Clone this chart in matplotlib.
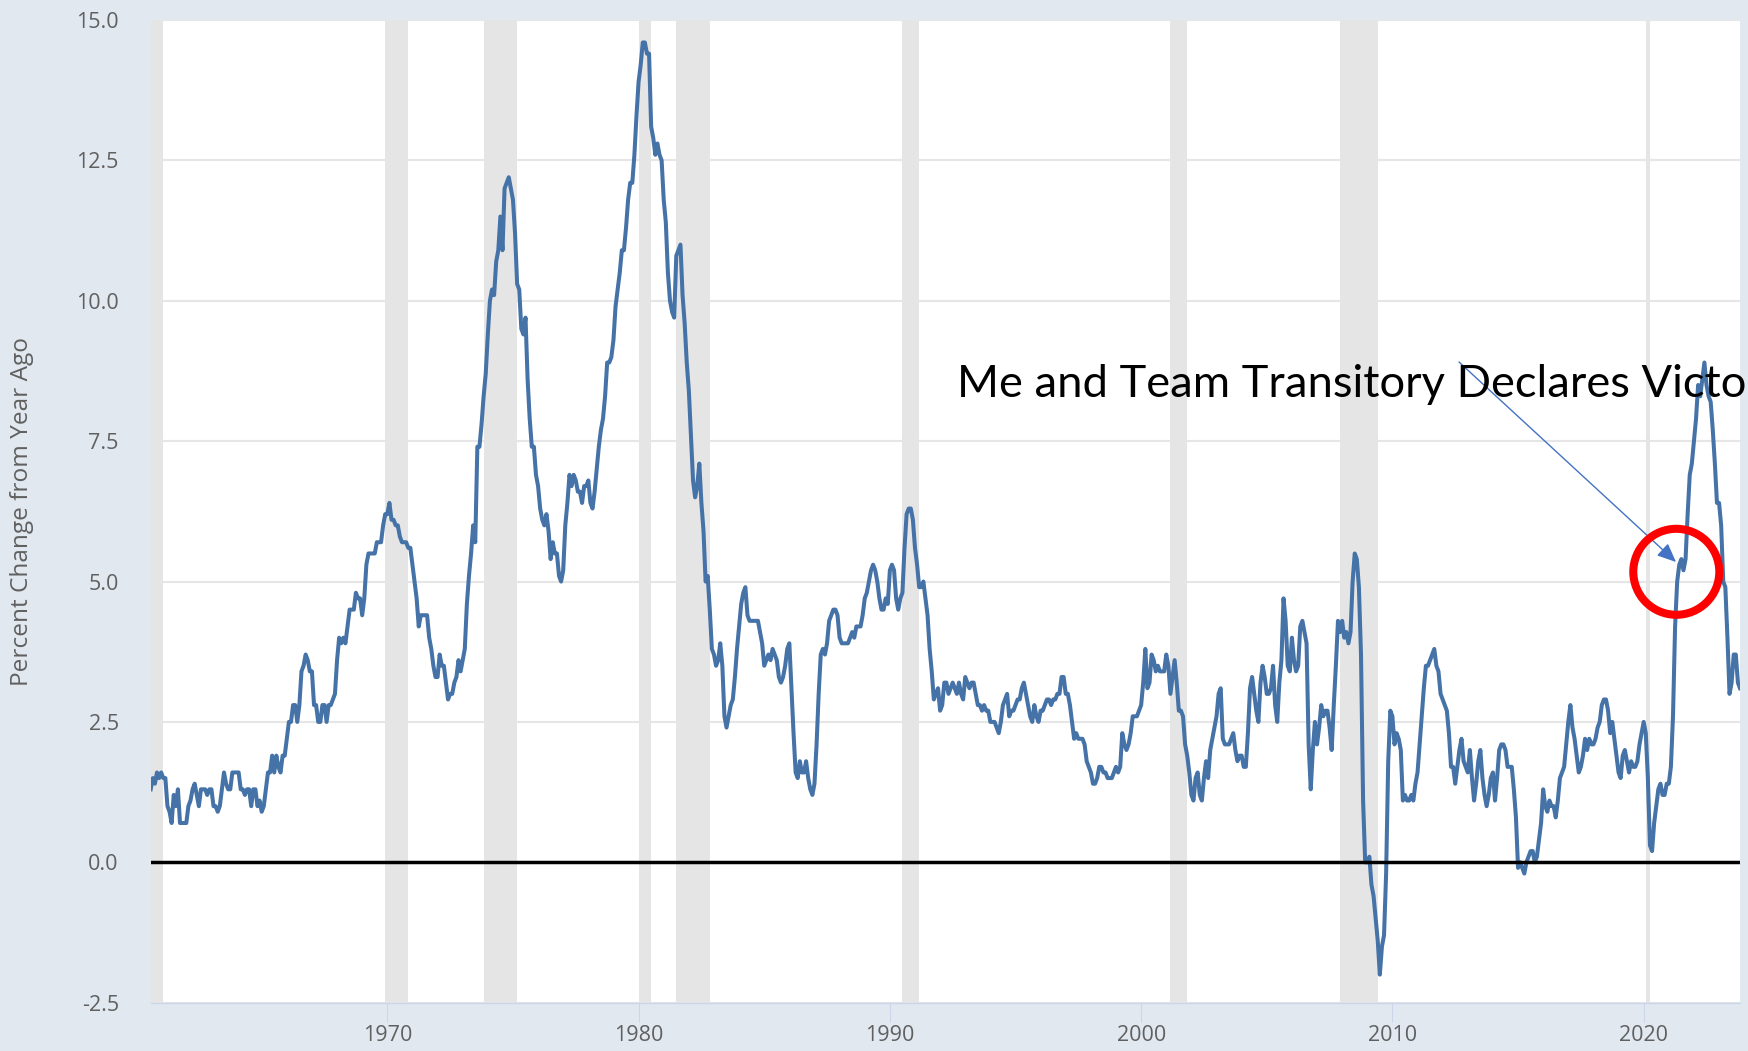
import matplotlib
matplotlib.use("Agg")
import matplotlib.pyplot as plt
from matplotlib.patches import Ellipse
import numpy as np

# ---------------- data: CPI, percent change from year ago (monthly) ----------------
start_year, start_month = 1960, 8

yoy_1960s = [1.3, 1.5, 1.4, 1.6, 1.5,
             1.6, 1.5, 1.5, 1.0, 0.9, 0.7, 1.2, 1.0, 1.3, 0.7, 0.7, 0.7,
             0.7, 1.0, 1.1, 1.3, 1.4, 1.2, 1.0, 1.3, 1.3, 1.3, 1.2, 1.3,
             1.3, 1.0, 1.0, 0.9, 1.0, 1.3, 1.6, 1.4, 1.3, 1.3, 1.6, 1.6,
             1.6, 1.6, 1.3, 1.3, 1.2, 1.3, 1.3, 1.0, 1.3, 1.3, 1.0, 1.1,
             0.9, 1.0, 1.3, 1.6, 1.6, 1.9, 1.6, 1.9, 1.7, 1.6, 1.9, 1.9,
             2.2, 2.5, 2.5, 2.8, 2.8, 2.5, 2.8, 3.4, 3.5, 3.7, 3.6, 3.4,
             3.4, 2.8, 2.8, 2.5, 2.5, 2.8, 2.8, 2.5, 2.8, 2.8, 2.9, 3.0,
             3.6, 4.0, 3.9, 4.0, 3.9, 4.2, 4.5, 4.5, 4.5, 4.8, 4.7, 4.7,
             4.4, 4.7, 5.3, 5.5, 5.5, 5.5, 5.5, 5.7, 5.7, 5.7, 6.0, 6.2]

yoy_1970s = [6.2, 6.4, 6.1, 6.1, 6.0, 6.0, 5.8, 5.7, 5.7, 5.7, 5.6, 5.6,
             5.3, 5.0, 4.7, 4.2, 4.4, 4.4, 4.4, 4.4, 4.0, 3.8, 3.5, 3.3,
             3.3, 3.7, 3.5, 3.5, 3.2, 2.9, 3.0, 3.0, 3.2, 3.3, 3.6, 3.4,
             3.6, 3.8, 4.6, 5.1, 5.5, 6.0, 5.7, 7.4, 7.4, 7.8, 8.3, 8.7,
             9.4, 10.0, 10.2, 10.1, 10.7, 10.9, 11.5, 10.9, 12.0, 12.1, 12.2, 12.0,
             11.8, 11.2, 10.3, 10.2, 9.5, 9.4, 9.7, 8.6, 7.9, 7.4, 7.4, 6.9,
             6.7, 6.3, 6.1, 6.0, 6.2, 5.9, 5.4, 5.7, 5.5, 5.5, 5.1, 5.0,
             5.2, 6.0, 6.4, 6.9, 6.7, 6.9, 6.8, 6.6, 6.6, 6.4, 6.7, 6.7,
             6.8, 6.4, 6.3, 6.6, 7.0, 7.4, 7.7, 7.9, 8.3, 8.9, 8.9, 9.0,
             9.3, 9.9, 10.2, 10.5, 10.9, 10.9, 11.3, 11.8, 12.1, 12.1, 12.6, 13.3]

yoy_1980s = [13.9, 14.2, 14.6, 14.6, 14.4, 14.4, 13.1, 12.9, 12.6, 12.8, 12.6, 12.5,
             11.8, 11.4, 10.5, 10.0, 9.8, 9.7, 10.8, 10.9, 11.0, 10.1, 9.6, 8.9,
             8.4, 7.6, 6.8, 6.5, 6.7, 7.1, 6.4, 5.9, 5.0, 5.1, 4.5, 3.8,
             3.7, 3.5, 3.6, 3.9, 3.5, 2.6, 2.4, 2.6, 2.8, 2.9, 3.3, 3.8,
             4.2, 4.6, 4.8, 4.9, 4.4, 4.3, 4.3, 4.3, 4.3, 4.3, 4.1, 3.9,
             3.5, 3.6, 3.7, 3.6, 3.8, 3.7, 3.6, 3.3, 3.2, 3.3, 3.5, 3.8,
             3.9, 3.1, 2.3, 1.6, 1.5, 1.8, 1.6, 1.6, 1.8, 1.5, 1.3, 1.2,
             1.4, 2.1, 3.0, 3.7, 3.8, 3.7, 3.9, 4.3, 4.4, 4.5, 4.5, 4.4,
             4.0, 3.9, 3.9, 3.9, 3.9, 4.0, 4.1, 4.0, 4.2, 4.2, 4.2, 4.4,
             4.7, 4.8, 5.0, 5.2, 5.3, 5.2, 5.0, 4.7, 4.5, 4.5, 4.7, 4.6]

yoy_1990s = [5.2, 5.3, 5.2, 4.7, 4.5, 4.7, 4.8, 5.6, 6.2, 6.3, 6.3, 6.1,
             5.6, 5.3, 4.9, 4.9, 5.0, 4.7, 4.4, 3.8, 3.4, 2.9, 3.0, 3.1,
             2.7, 2.8, 3.2, 3.2, 3.0, 3.1, 3.2, 3.1, 3.0, 3.2, 3.0, 2.9,
             3.3, 3.2, 3.1, 3.2, 3.2, 3.0, 2.8, 2.8, 2.7, 2.8, 2.7, 2.7,
             2.5, 2.5, 2.5, 2.4, 2.3, 2.5, 2.8, 2.9, 3.0, 2.6, 2.7, 2.7,
             2.8, 2.9, 2.9, 3.1, 3.2, 3.0, 2.8, 2.6, 2.5, 2.8, 2.6, 2.5,
             2.7, 2.7, 2.8, 2.9, 2.9, 2.8, 2.9, 2.9, 3.0, 3.0, 3.3, 3.3,
             3.0, 3.0, 2.8, 2.5, 2.2, 2.3, 2.2, 2.2, 2.2, 2.1, 1.8, 1.7,
             1.6, 1.4, 1.4, 1.5, 1.7, 1.7, 1.6, 1.6, 1.5, 1.5, 1.5, 1.6,
             1.7, 1.6, 1.7, 2.3, 2.1, 2.0, 2.1, 2.3, 2.6, 2.6, 2.6, 2.7]

yoy_2000s = [2.8, 3.2, 3.8, 3.1, 3.2, 3.7, 3.6, 3.4, 3.5, 3.4, 3.4, 3.4,
             3.7, 3.5, 3.0, 3.3, 3.6, 3.2, 2.7, 2.7, 2.6, 2.1, 1.9, 1.6,
             1.2, 1.1, 1.5, 1.6, 1.2, 1.1, 1.5, 1.8, 1.5, 2.0, 2.2, 2.4,
             2.6, 3.0, 3.1, 2.2, 2.1, 2.1, 2.1, 2.2, 2.3, 2.0, 1.8, 1.9,
             1.9, 1.7, 1.7, 2.3, 3.1, 3.3, 3.0, 2.7, 2.5, 3.2, 3.5, 3.3,
             3.0, 3.0, 3.1, 3.5, 2.8, 2.5, 3.2, 3.6, 4.7, 4.3, 3.5, 3.4,
             4.0, 3.6, 3.4, 3.5, 4.2, 4.3, 4.1, 3.9, 2.1, 1.3, 2.0, 2.5,
             2.1, 2.4, 2.8, 2.6, 2.7, 2.7, 2.4, 2.0, 2.8, 3.5, 4.3, 4.1,
             4.3, 4.0, 4.1, 3.9, 4.1, 5.0, 5.5, 5.4, 4.9, 3.7, 1.1, 0.0,
             0.0, 0.1, -0.4, -0.6, -1.0, -1.4, -2.0, -1.5, -1.3, -0.2, 1.8, 2.7]

yoy_2010s = [2.6, 2.1, 2.3, 2.2, 2.0, 1.1, 1.2, 1.1, 1.1, 1.2, 1.1, 1.4,
             1.6, 2.1, 2.6, 3.1, 3.5, 3.5, 3.6, 3.7, 3.8, 3.5, 3.4, 3.0,
             2.9, 2.8, 2.7, 2.3, 1.7, 1.7, 1.4, 1.7, 2.0, 2.2, 1.8, 1.7,
             1.6, 2.0, 1.5, 1.1, 1.4, 1.8, 2.0, 1.5, 1.2, 1.0, 1.2, 1.5,
             1.6, 1.1, 1.5, 2.0, 2.1, 2.1, 2.0, 1.7, 1.7, 1.7, 1.3, 0.8,
             -0.1, 0.0, -0.1, -0.2, 0.0, 0.1, 0.2, 0.2, 0.0, 0.1, 0.4, 0.7,
             1.3, 1.0, 0.9, 1.1, 1.0, 1.0, 0.8, 1.1, 1.5, 1.6, 1.7, 2.1,
             2.5, 2.8, 2.4, 2.2, 1.9, 1.6, 1.7, 1.9, 2.2, 2.0, 2.2, 2.1,
             2.1, 2.2, 2.4, 2.5, 2.8, 2.9, 2.9, 2.7, 2.3, 2.5, 2.2, 1.9,
             1.6, 1.5, 1.9, 2.0, 1.8, 1.6, 1.8, 1.7, 1.7, 1.8, 2.1, 2.3]

yoy_2020s = [2.5, 2.3, 1.5, 0.3, 0.2, 0.7, 1.0, 1.3, 1.4, 1.2, 1.2, 1.4,
             1.4, 1.7, 2.6, 4.2, 5.0, 5.3, 5.4, 5.2, 5.4, 6.2, 6.9, 7.1,
             7.5, 7.9, 8.5, 8.3, 8.6, 8.9, 8.5, 8.3, 8.2, 7.7, 7.1, 6.4,
             6.4, 6.0, 5.0, 4.9, 4.0, 3.0, 3.2, 3.7, 3.7, 3.2, 3.1]

recession_starts = [1960.25, 1969.917, 1973.833, 1980.0, 1981.5, 1990.5, 2001.167, 2007.917, 2020.083]
recession_ends   = [1961.083, 1970.833, 1975.167, 1980.5, 1982.833, 1991.167, 2001.833, 2009.417, 2020.25]

y_ticks = [-2.5, 0.0, 2.5, 5.0, 7.5, 10.0, 12.5, 15.0]
x_ticks = [1970, 1980, 1990, 2000, 2010, 2020]

# the reference shows the annotation running off the right edge, ending in "Victo"
annotation_text = "Me and Team Transitory Declares Victo"
ylabel_text = "Percent Change from Year Ago"

# ---------------- build series ----------------
values = np.array(yoy_1960s + yoy_1970s + yoy_1980s + yoy_1990s +
                  yoy_2000s + yoy_2010s + yoy_2020s)
dates = start_year + (start_month - 1) / 12.0 + np.arange(len(values)) / 12.0

# ---------------- figure ----------------
W, H, DPI = 1749, 1051, 100
plt.rcParams['axes.unicode_minus'] = False
plt.rcParams['font.family'] = ['Open Sans', 'DejaVu Sans']

BG = '#e1e8f0'
fig = plt.figure(figsize=(W / DPI, H / DPI), dpi=DPI, facecolor=BG)

left, right, top, bottom = 150.7, 1740.0, 20.0, 1002.7
ax = fig.add_axes([left / W, 1 - bottom / H, (right - left) / W, (bottom - top) / H])
ax.set_facecolor('white')

for s, e in zip(recession_starts, recession_ends):
    ax.axvspan(s, e, color='#e5e5e5', lw=0, zorder=1)

ax.plot(dates, values, color='#4572a7', lw=2.9, zorder=3, solid_joinstyle='round')
ax.axhline(0, color='black', lw=2.5, zorder=4)

ax.set_xlim(dates[0], dates[-1])
ax.set_ylim(-2.5, 15.0)

ax.set_axisbelow(True)
ax.yaxis.grid(True, color='#e6e6e6', lw=1.5)
ax.xaxis.grid(False)

for sp in ['top', 'right', 'left']:
    ax.spines[sp].set_visible(False)
ax.spines['bottom'].set_color('#ccd6eb')
ax.spines['bottom'].set_linewidth(1.0)

tick_color = '#606060'
ax.set_yticks(y_ticks)
ax.set_yticklabels([f"{v:.1f}" for v in y_ticks])
ax.tick_params(axis='y', length=0, pad=23, labelsize=15.5, labelcolor=tick_color)
ax.set_xticks(x_ticks)
ax.set_xticklabels([str(v) for v in x_ticks])
ax.tick_params(axis='x', length=13.7, width=0.8, color='#ccd6eb', pad=2,
               labelsize=15.5, labelcolor=tick_color)
for lbl in ax.get_yticklabels():
    lbl.set_verticalalignment('center_baseline')

fig.text(22 / W, 1 - (top + bottom) / 2 / H, ylabel_text, rotation=90,
         ha='center', va='center', fontsize=17.6, color=tick_color)

# ---------------- annotation text (fit to span up to the right edge) ----------------
renderer = fig.canvas.get_renderer()
probe = fig.text(0, 0, annotation_text, fontsize=36, family=['Lato', 'DejaVu Sans'])
w_probe = probe.get_window_extent(renderer).width
probe.remove()
fs = 36 * (W - 957 - 3) / w_probe

fig.text(957 / W, 1 - 397 / H, annotation_text, fontsize=fs, color='black',
         ha='left', va='baseline', family=['Lato', 'DejaVu Sans'])

ax.annotate('', xy=(1676, H - 562), xycoords='figure pixels',
            xytext=(1459, H - 362), textcoords='figure pixels',
            arrowprops=dict(arrowstyle='-|>,head_length=1.15,head_width=0.5',
                            color='#4472c4', lw=1.0, shrinkA=0, shrinkB=0,
                            mutation_scale=10))

circ = Ellipse((1676.3 / W, 1 - 571.8 / H), width=2 * 43 / W, height=2 * 43 / H,
               transform=fig.transFigure, fill=False, edgecolor='#ff0000', lw=5.8)
fig.add_artist(circ)

fig.savefig('out.png', dpi=DPI, facecolor=BG)
